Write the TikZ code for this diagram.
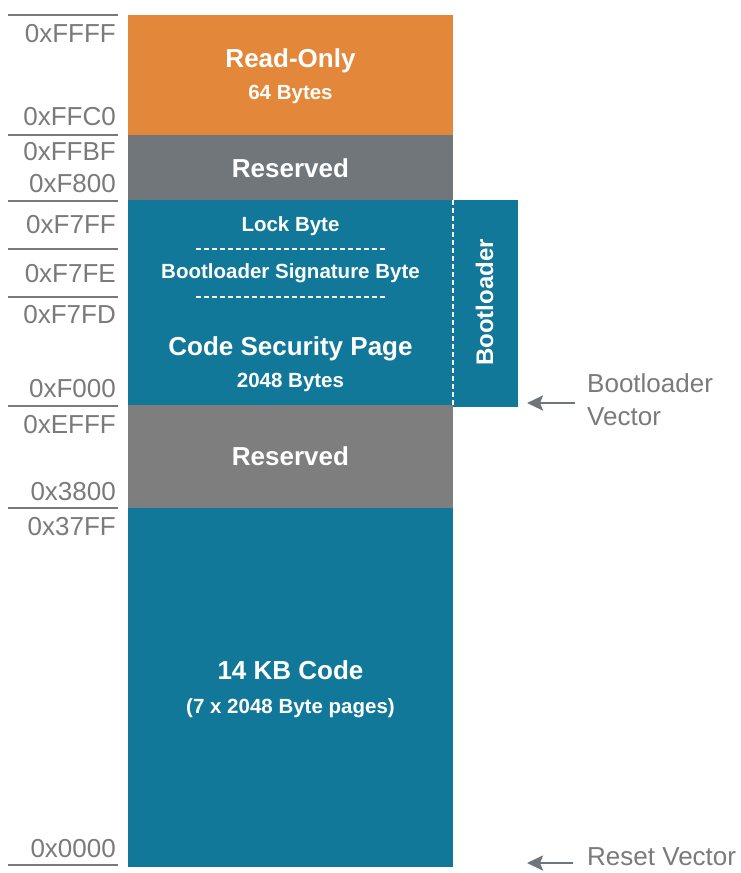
\documentclass[tikz,border=0pt]{standalone}
\usepackage{fontspec}
\setmainfont{Liberation Sans}
\usepackage{tikz}
\usetikzlibrary{arrows.meta}

\definecolor{romorange}{HTML}{E3883A}
\definecolor{resgray}{HTML}{70767A}
\definecolor{resgraylight}{HTML}{7E7E7E}
\definecolor{codeteal}{HTML}{11789A}
\definecolor{addrgray}{HTML}{7A7A7A}
\definecolor{arrowgray}{HTML}{6E757B}

\newcommand{\bigfont}{\fontsize{26}{30}\selectfont\bfseries}
\newcommand{\smallfont}{\fontsize{20.5}{24}\selectfont\bfseries}
\newcommand{\addrfont}{\fontsize{26}{33}\selectfont}

\begin{document}
\begin{tikzpicture}[x=1pt,y=-1pt,
        region/.style={rectangle,inner sep=0,outer sep=0,anchor=north west,minimum width=325pt},
        addrlabel/.style={anchor=base east,inner sep=0,text=addrgray,font=\addrfont},
        addrtick/.style={addrgray,line width=2pt},
        bigtext/.style={anchor=base,inner sep=0,text=white,font=\bigfont},
        smalltext/.style={anchor=base,inner sep=0,text=white,font=\smallfont},
        sepline/.style={white,line width=2pt,dash pattern=on 5pt off 3pt},
        vecarrow/.style={arrowgray,line width=2.5pt,-{Stealth[length=16pt,width=15pt,inset=3pt]}},
        vecnote/.style={inner sep=0,text=addrgray,font=\addrfont,align=left}]
        \useasboundingbox (0,0) rectangle (740,873);

        % memory regions
        \node[region,fill=romorange,minimum height=120pt] (rom) at (128,15){};
        \node[region,fill=resgray,minimum height=65pt] (res1) at (128,135){};
        \node[region,fill=codeteal,minimum height=205pt] (csp) at (128,200){};
        \node[rectangle,inner sep=0,outer sep=0,anchor=north west,fill=codeteal,minimum width=65pt,minimum height=207pt] (boot) at (453,200){};
        \node[region,fill=resgraylight,minimum height=103pt] (res2) at (128,405){};
        \node[region,fill=codeteal,minimum height=359pt] (code) at (128,508){};

        \draw[sepline] (boot.north west) -- (csp.south east);
        \draw[sepline] (196,249) -- (385,249);
        \draw[sepline] (196,297) -- (385,297);

        % region texts
        \node[bigtext] (romtxt) at (290.5,67){Read-Only};
        \node[smalltext] (romsize) at (290.5,99){64 Bytes};
        \node[bigtext] (res1txt) at (290.5,177){Reserved};
        \node[smalltext] (locktxt) at (290.5,231){Lock Byte};
        \node[smalltext] (sigtxt) at (290.5,278){Bootloader Signature Byte};
        \node[bigtext] (csptxt) at (290.5,355){Code Security Page};
        \node[smalltext] (cspsize) at (290.5,387){2048 Bytes};
        \node[bigtext] (res2txt) at (290.5,465){Reserved};
        \node[bigtext] (codetxt) at (290.5,679){14 KB Code};
        \node[smalltext] (codesize) at (290.5,713){(7 x 2048 Byte pages)};
        \node[bigtext,rotate=90,font=\fontsize{24}{28}\selectfont\bfseries] (boottxt) at (493,302.5){Bootloader};

        % addresses
        \node[addrlabel] (aFFFF) at (116,42){0xFFFF};
        \node[addrlabel] (aFFC0) at (116,125){0xFFC0};
        \node[addrlabel] (aFFBF) at (116,160){0xFFBF};
        \node[addrlabel] (aF800) at (116,192){0xF800};
        \node[addrlabel] (aF7FF) at (116,233){0xF7FF};
        \node[addrlabel] (aF7FE) at (116,282){0xF7FE};
        \node[addrlabel] (aF7FD) at (116,323){0xF7FD};
        \node[addrlabel] (aF000) at (116,397){0xF000};
        \node[addrlabel] (aEFFF) at (116,433){0xEFFF};
        \node[addrlabel] (a3800) at (116,500){0x3800};
        \node[addrlabel] (a37FF) at (116,535){0x37FF};
        \node[addrlabel] (a0000) at (116,857){0x0000};

        \draw[addrtick] (8,15) -- (118,15);
        \draw[addrtick] (8,135) -- (118,135);
        \draw[addrtick] (8,200.5) -- (118,200.5);
        \draw[addrtick] (8,249) -- (118,249);
        \draw[addrtick] (8,297) -- (118,297);
        \draw[addrtick] (8,406) -- (118,406);
        \draw[addrtick] (8,508) -- (118,508);
        \draw[addrtick] (8,865) -- (118,865);

        % vectors
        \node[vecnote,anchor=west] (bvnote) at (587,400){Bootloader\\Vector};
        \node[vecnote,anchor=base west] (rvnote) at (587,865){Reset Vector};
        \coordinate (bvtail) at (575,403);
        \coordinate (bvtip) at (527,403);
        \coordinate (rvtail) at (573,863);
        \coordinate (rvtip) at (527,863);
        \draw[vecarrow] (bvtail) -- (bvtip);
        \draw[vecarrow] (rvtail) -- (rvtip);

    \end{tikzpicture}
\end{document}
